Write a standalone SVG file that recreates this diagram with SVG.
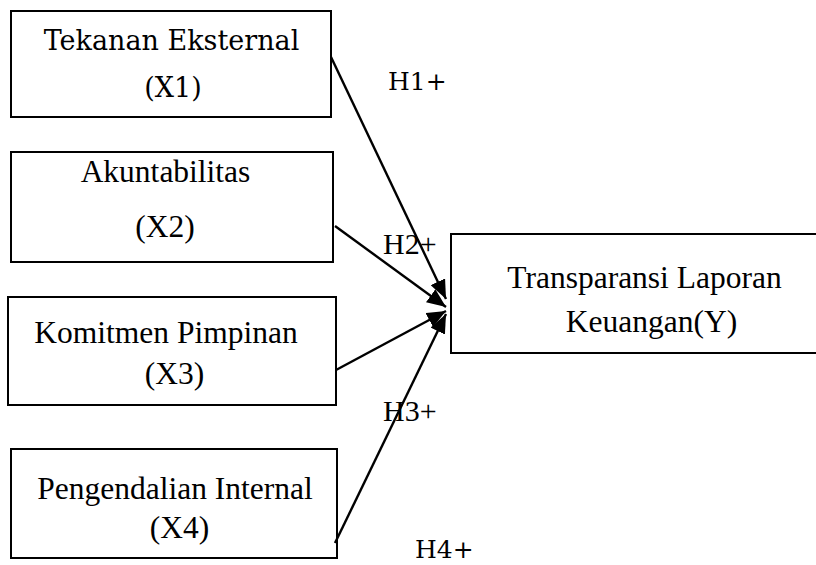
<svg xmlns="http://www.w3.org/2000/svg" width="816" height="565" viewBox="0 0 816 565">
<style>
.box{fill:#fff;stroke:#000;stroke-width:2}
.t{font-family:"Liberation Serif","Times New Roman",serif;font-size:31.5px;fill:#000;text-anchor:middle}
.c{font-family:"DejaVu Serif",serif;font-size:27px;fill:#000;text-anchor:middle}
.lbl{font-family:"Liberation Serif",serif;font-size:30px;fill:#000}
.lblc{font-family:"DejaVu Serif",serif;font-size:25px;fill:#000}
.edge{stroke:#000;stroke-width:2.4;fill:none;marker-end:url(#ah)}
</style>
<defs>
<marker id="ah" markerUnits="userSpaceOnUse" markerWidth="20" markerHeight="16" refX="19" refY="8" orient="auto">
<path d="M0,0 L19,8 L0,16 z" fill="#000"/>
</marker>
</defs>
<rect width="816" height="565" fill="#fff"/>
<g id="x1">
<rect class="box" x="11" y="11" width="320" height="106"/>
<text class="c" x="171.5" y="50">Tekanan Eksternal</text>
<text class="c" x="173" y="97">(X1)</text>
</g>
<g id="x2">
<rect class="box" x="11" y="152" width="322" height="110"/>
<text class="t" x="165.5" y="182">Akuntabilitas</text>
<text class="t" x="165" y="237">(X2)</text>
</g>
<g id="x3">
<rect class="box" x="8" y="297" width="328" height="108"/>
<text class="t" x="166" y="343">Komitmen Pimpinan</text>
<text class="t" x="174.5" y="384">(X3)</text>
</g>
<g id="x4">
<rect class="box" x="11" y="449" width="326" height="109"/>
<text class="t" x="175" y="499">Pengendalian Internal</text>
<text class="t" x="179.5" y="538">(X4)</text>
</g>
<g id="y">
<rect class="box" x="451" y="234" width="380" height="119"/>
<text class="t" x="644.5" y="288">Transparansi Laporan</text>
<text class="t" x="651.5" y="332">Keuangan(Y)</text>
</g>
<g id="connectors">
<line class="edge" x1="331" y1="57" x2="446" y2="299"/>
<line class="edge" x1="335" y1="226" x2="446" y2="307"/>
<line class="edge" x1="336" y1="370" x2="446" y2="311"/>
<line class="edge" x1="335" y1="543" x2="446" y2="314"/>
</g>
<g id="labels">
<text class="lblc" x="388" y="90">H1+</text>
<text class="lbl" x="383" y="254">H2+</text>
<text class="lbl" x="383" y="421">H3+</text>
<text class="lblc" x="415" y="558">H4+</text>
</g>
</svg>
